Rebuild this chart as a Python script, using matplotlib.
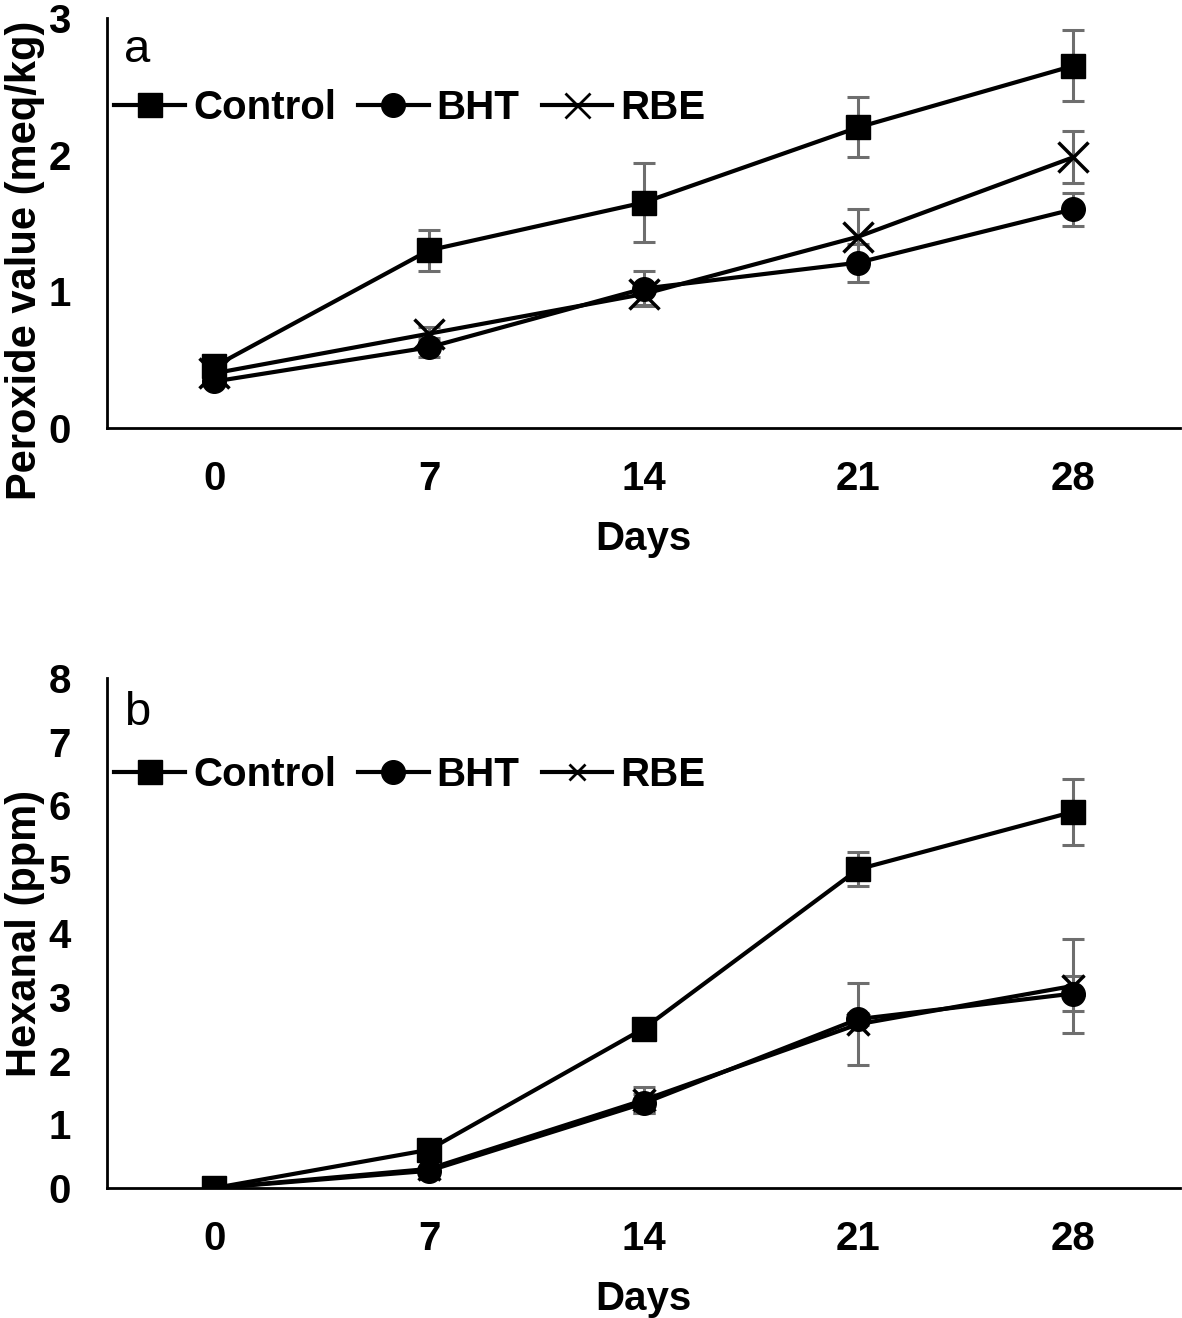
import numpy as np
import matplotlib.pyplot as plt

plt.rcParams["font.family"] = ["Liberation Sans", "DejaVu Sans"]

days = ["0", "7", "14", "21", "28"]

# (a) 過氧化值 Peroxide value (meq/kg)
pv_control = [0.45, 1.30, 1.65, 2.20, 2.65]
pv_control_err = [0.03, 0.15, 0.29, 0.22, 0.26]
pv_bht = [0.34, 0.59, 1.02, 1.21, 1.60]
pv_bht_err = [0.03, 0.07, 0.13, 0.14, 0.12]
pv_rbe = [0.40, 0.69, 0.98, 1.40, 1.98]
pv_rbe_err = [0.03, 0.05, 0.08, 0.20, 0.19]

# (b) Hexanal (ppm)
hx_control = [0.0, 0.60, 2.50, 5.00, 5.90]
hx_control_err = [0.0, 0.05, 0.15, 0.27, 0.52]
hx_bht = [0.0, 0.27, 1.33, 2.65, 3.05]
hx_bht_err = [0.0, 0.03, 0.15, 0.10, 0.27]
hx_rbe = [0.0, 0.30, 1.38, 2.57, 3.17]
hx_rbe_err = [0.0, 0.03, 0.20, 0.64, 0.74]

FS = 29
ERR_COLOR = "#6e6e6e"

fig = plt.figure(figsize=(11.82, 13.18), dpi=100)
ax1 = fig.add_axes([0.0905, 0.6753, 0.908, 0.311])
ax2 = fig.add_axes([0.0905, 0.0986, 0.908, 0.387])


def draw_panel(ax, series, ylim, yticks, ylabel, tag, xms, leg_xms, leg_y, ylab_y):
    x = np.arange(len(days))
    handles = []
    for vals, errs, marker, ms, name in series:
        ax.errorbar(x, vals, yerr=errs, fmt="none", ecolor=ERR_COLOR,
                    elinewidth=2.2, capsize=8, capthick=2.2, zorder=2)
        mew = 2.5 if marker == "x" else 1
        if marker == "x":
            ms = xms
        ax.plot(x, vals, color="black", lw=3, marker=marker, ms=ms,
                mew=mew, zorder=3)
        lm = leg_xms if marker == "x" else ms
        h, = ax.plot([], [], color="black", lw=3, marker=marker, ms=lm,
                     mew=(2 if marker == "x" else 1), label=name)
        handles.append(h)

    ax.set_xlim(-0.5, len(days) - 0.5)
    ax.set_ylim(*ylim)
    ax.set_xticks(x)
    ax.set_xticklabels(days)
    ax.set_yticks(yticks)
    ax.tick_params(axis="x", length=0, pad=23, labelsize=FS)
    ax.tick_params(axis="y", length=0, pad=26, labelsize=FS)
    for lab in ax.get_xticklabels() + ax.get_yticklabels():
        lab.set_fontweight("bold")
    for s in ["top", "right"]:
        ax.spines[s].set_visible(False)
    for s in ["left", "bottom"]:
        ax.spines[s].set_linewidth(2)
    ax.set_xlabel("Days", fontsize=FS, fontweight="bold", labelpad=16)
    ax.set_ylabel(ylabel, fontsize=30, fontweight="bold")
    ax.yaxis.set_label_coords(-0.058, ylab_y)
    ax.text(0.016, 0.975, tag, transform=ax.transAxes, fontsize=34,
            va="top", ha="left")
    ax.legend(handles=handles, loc="center left", bbox_to_anchor=(0.007, leg_y),
              ncol=3, frameon=False, prop={"size": FS, "weight": "bold"},
              handlelength=1.75, handletextpad=0.2, columnspacing=0.55,
              borderaxespad=0, borderpad=0)


draw_panel(ax1,
           [(pv_control, pv_control_err, "s", 17, "Control"),
            (pv_bht, pv_bht_err, "o", 17, "BHT"),
            (pv_rbe, pv_rbe_err, "x", 17, "RBE")],
           (0, 3), [0, 1, 2, 3], "Peroxide value (meq/kg)", "a", 22, 18,
           0.78, 0.41)
draw_panel(ax2,
           [(hx_control, hx_control_err, "s", 17, "Control"),
            (hx_bht, hx_bht_err, "o", 17, "BHT"),
            (hx_rbe, hx_rbe_err, "x", 17, "RBE")],
           (0, 8), list(range(9)), "Hexanal (ppm)", "b", 16, 12,
           0.81, 0.5)

plt.savefig("out.png", dpi=100)
